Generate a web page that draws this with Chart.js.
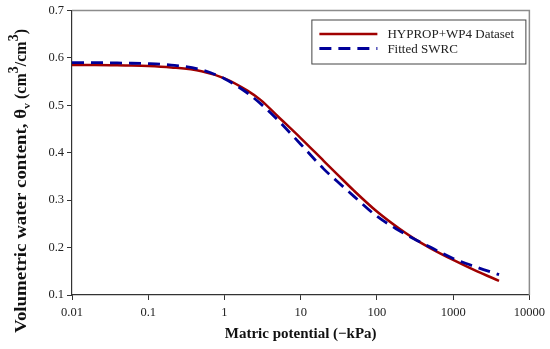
<!DOCTYPE html>
<html lang="en">
<head>
    <meta charset="UTF-8">
    <title>SWRC</title>
    <script src="https://cdn.jsdelivr.net/npm/chart.js"></script>
    <style>
        body {
            margin: 0;
            background-color: #fff;
        }
        #chartContainer {
            width: 550px;
            height: 349px;
        }
    </style>
</head>
<body>
    <div id="chartContainer">
        <canvas id="swrcChart"></canvas>
    </div>

    <script>
        // matric potential (-kPa)
        const suction = [0.01, 0.02, 0.05, 0.1, 0.2, 0.5, 1, 2, 3, 5, 10, 20, 30, 50, 100, 200, 300, 500, 1000, 2000, 4000];
        const measured = [0.585, 0.585, 0.584, 0.583, 0.580, 0.572, 0.557, 0.531, 0.511, 0.477, 0.431, 0.383, 0.355, 0.320, 0.276, 0.239, 0.220, 0.199, 0.174, 0.151, 0.130];
        const fitted = [0.590, 0.590, 0.589, 0.588, 0.585, 0.575, 0.556, 0.526, 0.503, 0.469, 0.418, 0.366, 0.340, 0.308, 0.266, 0.235, 0.219, 0.201, 0.177, 0.159, 0.143];

        const xTicks = [0.01, 0.1, 1, 10, 100, 1000, 10000];
        const xTickLabels = ['0.01', '0.1', '1', '10', '100', '1000', '10000'];
        const yTicks = [0.1, 0.2, 0.3, 0.4, 0.5, 0.6, 0.7];
        const yTickLabels = ['0.1', '0.2', '0.3', '0.4', '0.5', '0.6', '0.7'];

        const seriesNames = ['HYPROP+WP4 Dataset', 'Fitted SWRC'];

        const serif = "'Liberation Serif', 'Times New Roman', serif";

        function toPoints(ys) {
            return suction.map((x, i) => ({ x: x, y: ys[i] }));
        }

        // grey frame on top/right of plot area
        const framePlugin = {
            id: 'frame',
            beforeDatasetsDraw(chart) {
                const { ctx, chartArea: a } = chart;
                ctx.save();
                ctx.strokeStyle = '#8c8c8c';
                ctx.lineWidth = 1.5;
                ctx.beginPath();
                ctx.moveTo(a.left, a.top);
                ctx.lineTo(a.right, a.top);
                ctx.lineTo(a.right, a.bottom);
                ctx.stroke();
                ctx.restore();
            }
        };

        // y title with subscript and superscripts
        const yTitlePlugin = {
            id: 'yTitle',
            afterDraw(chart) {
                const ctx = chart.ctx;
                const main = [
                    { t: 'Volumetric water content, θ', size: 16, dy: 0 },
                    { t: 'v', size: 10, dy: 4 }
                ];
                const units = [
                    { t: ' (cm', size: 16, dy: 0 },
                    { t: '3', size: 14, dy: -8 },
                    { t: '/cm', size: 16, dy: 0 },
                    { t: '3', size: 14, dy: -8 },
                    { t: ')', size: 16, dy: 0 }
                ];
                const drawRun = (parts) => {
                    let x = 0;
                    parts.forEach(p => {
                        ctx.font = 'bold ' + p.size + 'px ' + serif;
                        ctx.fillText(p.t, x, p.dy);
                        x += ctx.measureText(p.t).width;
                    });
                    return x;
                };
                const measureRun = (parts) => parts.reduce((s, p) => {
                    ctx.font = 'bold ' + p.size + 'px ' + serif;
                    return s + ctx.measureText(p.t).width;
                }, 0);
                ctx.save();
                ctx.translate(26, 333);
                ctx.rotate(-Math.PI / 2);
                ctx.fillStyle = '#111';
                ctx.textBaseline = 'alphabetic';
                ctx.textAlign = 'left';
                // main run is drawn a little wider, as in the original figure
                const mw = measureRun(main);
                ctx.save();
                ctx.scale(230 / mw, 1);
                drawRun(main);
                ctx.restore();
                ctx.translate(230, 0);
                drawRun(units);
                ctx.restore();
            }
        };

        // boxed legend inside the plot area
        const legendBoxPlugin = {
            id: 'legendBox',
            afterDraw(chart) {
                const { ctx, chartArea: a } = chart;
                const right = a.right - 4;
                const left = right - 214;
                const top = a.top + 9;
                const h = 44;
                ctx.save();
                ctx.fillStyle = '#fff';
                ctx.fillRect(left, top, right - left, h);
                ctx.strokeStyle = '#444';
                ctx.lineWidth = 1;
                ctx.strokeRect(left + 0.5, top + 0.5, right - left, h);
                ctx.font = '13px ' + serif;
                ctx.textBaseline = 'middle';
                ctx.fillStyle = '#222';
                chart.data.datasets.forEach((ds, i) => {
                    const y = top + 14.5 + i * 14.5;
                    ctx.strokeStyle = ds.borderColor;
                    ctx.lineWidth = ds.borderWidth;
                    ctx.setLineDash(ds.borderDash || []);
                    ctx.beginPath();
                    ctx.moveTo(left + 8, y);
                    ctx.lineTo(left + 66, y);
                    ctx.stroke();
                    ctx.setLineDash([]);
                    ctx.fillText(ds.label, left + 76, y + 1);
                });
                ctx.restore();
            }
        };

        const ctx = document.getElementById('swrcChart').getContext('2d');

        new Chart(ctx, {
            type: 'line',
            data: {
                datasets: [{
                    label: seriesNames[0],
                    data: toPoints(measured),
                    borderColor: '#a00000',
                    borderWidth: 2.5,
                    pointRadius: 0,
                    fill: false,
                    cubicInterpolationMode: 'monotone',
                    order: 1
                }, {
                    label: seriesNames[1],
                    data: toPoints(fitted),
                    borderColor: '#000099',
                    borderWidth: 2.8,
                    borderDash: [12, 7],
                    pointRadius: 0,
                    fill: false,
                    cubicInterpolationMode: 'monotone',
                    order: 0
                }]
            },
            options: {
                responsive: true,
                maintainAspectRatio: false,
                animation: false,
                layout: {
                    padding: { top: 9, right: 20, left: 0, bottom: 0 }
                },
                plugins: {
                    legend: { display: false },
                    tooltip: { enabled: false }
                },
                scales: {
                    x: {
                        type: 'logarithmic',
                        min: 0.01,
                        max: 10000,
                        afterFit(scale) { scale.height = 54; },
                        afterBuildTicks(scale) {
                            scale.ticks = xTicks.map(v => ({ value: v }));
                        },
                        grid: {
                            drawOnChartArea: false,
                            drawTicks: true,
                            tickLength: 5,
                            color: '#333'
                        },
                        border: { color: '#333', width: 1.2 },
                        ticks: {
                            autoSkip: false,
                            maxRotation: 0,
                            padding: 5,
                            color: '#222',
                            font: { family: serif, size: 12.5 },
                            callback: (v) => xTickLabels[xTicks.indexOf(v)] ?? ''
                        },
                        title: {
                            display: true,
                            text: 'Matric potential (\u2212kPa)',
                            color: '#111',
                            font: { family: serif, size: 15, weight: 'bold' },
                            padding: { top: 0, bottom: 6 }
                        }
                    },
                    y: {
                        min: 0.1,
                        max: 0.7,
                        afterFit(scale) { scale.width = 72; },
                        afterBuildTicks(scale) {
                            scale.ticks = yTicks.map(v => ({ value: v }));
                        },
                        grid: {
                            drawOnChartArea: false,
                            drawTicks: true,
                            tickLength: 5,
                            color: '#333'
                        },
                        border: { color: '#333', width: 1.2 },
                        ticks: {
                            padding: 3,
                            color: '#222',
                            font: { family: serif, size: 12.5 },
                            callback: (v) => yTickLabels[yTicks.findIndex(t => Math.abs(t - v) < 1e-6)] ?? ''
                        }
                    }
                }
            },
            plugins: [framePlugin, yTitlePlugin, legendBoxPlugin]
        });
    </script>
</body>
</html>
